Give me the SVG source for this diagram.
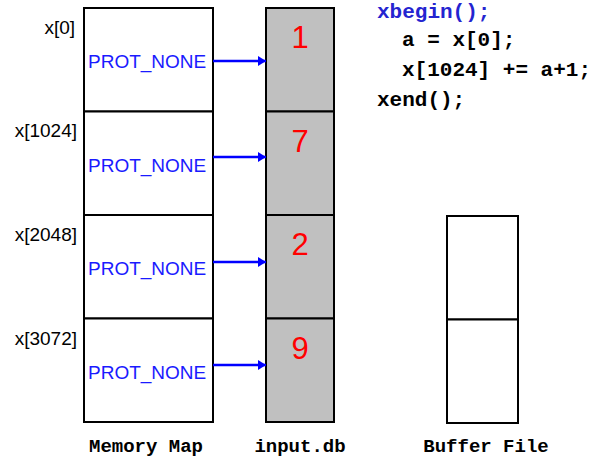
<svg xmlns="http://www.w3.org/2000/svg" width="603" height="459" viewBox="0 0 603 459">
<defs>
<marker id="ah" markerWidth="10" markerHeight="12" refX="8" refY="6" orient="auto" markerUnits="userSpaceOnUse">
<path d="M0,1 L8,6 L0,11 Z" fill="#0000ff"/>
</marker>
<style>
.box{fill:#ffffff;stroke:#000;stroke-width:2}
.db{fill:#c0c0c0;stroke:#000;stroke-width:2}
.addr{font-family:"Liberation Sans",Arial,sans-serif;font-size:19px;fill:#000;text-anchor:end}
.prot{font-family:"Liberation Sans",Arial,sans-serif;font-size:19px;fill:#1a1aff}
.num{font-family:"Liberation Sans",Arial,sans-serif;font-size:31px;fill:#ff0000;text-anchor:middle}
.cap{font-family:"Liberation Mono","Courier New",monospace;font-weight:bold;font-size:19px;fill:#000;text-anchor:middle}
.code{font-family:"Liberation Mono","Courier New",monospace;font-weight:bold;font-size:21px;fill:#000}
.blue{fill:#2424d0}
.conn{stroke:#0000ff;stroke-width:2.5;fill:none;marker-end:url(#ah)}
</style>
</defs>
<rect width="603" height="459" fill="#fff"/>
<g id="memory-map">
<rect class="box" x="84" y="8" width="129" height="103.5"/>
<rect class="box" x="84" y="111.5" width="129" height="103.5"/>
<rect class="box" x="84" y="215" width="129" height="103.5"/>
<rect class="box" x="84" y="318.5" width="129" height="103.5"/>
<text class="prot" x="88" y="68">PROT_NONE</text>
<text class="prot" x="88" y="172">PROT_NONE</text>
<text class="prot" x="88" y="275">PROT_NONE</text>
<text class="prot" x="88" y="379">PROT_NONE</text>
<text class="cap" x="146" y="452">Memory Map</text>
</g>
<g id="addresses">
<text class="addr" x="75" y="34">x[0]</text>
<text class="addr" x="77" y="137">x[1024]</text>
<text class="addr" x="77" y="241">x[2048]</text>
<text class="addr" x="77" y="345">x[3072]</text>
</g>
<g id="input-db">
<rect class="db" x="266" y="8" width="68" height="103.5"/>
<rect class="db" x="266" y="111.5" width="68" height="103.5"/>
<rect class="db" x="266" y="215" width="68" height="103.5"/>
<rect class="db" x="266" y="318.5" width="68" height="103.5"/>
<text class="num" x="300" y="48">1</text>
<text class="num" x="300" y="152">7</text>
<text class="num" x="300" y="255">2</text>
<text class="num" x="300" y="359">9</text>
<text class="cap" x="300" y="452">input.db</text>
</g>
<g id="buffer-file">
<rect class="box" x="447" y="216" width="71" height="103.5"/>
<rect class="box" x="447" y="319.5" width="71" height="103.5"/>
<text class="cap" x="486" y="452">Buffer File</text>
</g>
<g id="code">
<text class="code blue" x="377" y="18">xbegin();</text>
<text class="code" x="402" y="46">a = x[0];</text>
<text class="code" x="402" y="76">x[1024] += a+1;</text>
<text class="code" x="377" y="106">xend();</text>
</g>
<g id="connectors">
<line class="conn" x1="213" y1="61" x2="266" y2="61"/>
<line class="conn" x1="213" y1="157" x2="266" y2="157"/>
<line class="conn" x1="213" y1="262" x2="266" y2="262"/>
<line class="conn" x1="213" y1="365" x2="266" y2="365"/>
</g>
</svg>
